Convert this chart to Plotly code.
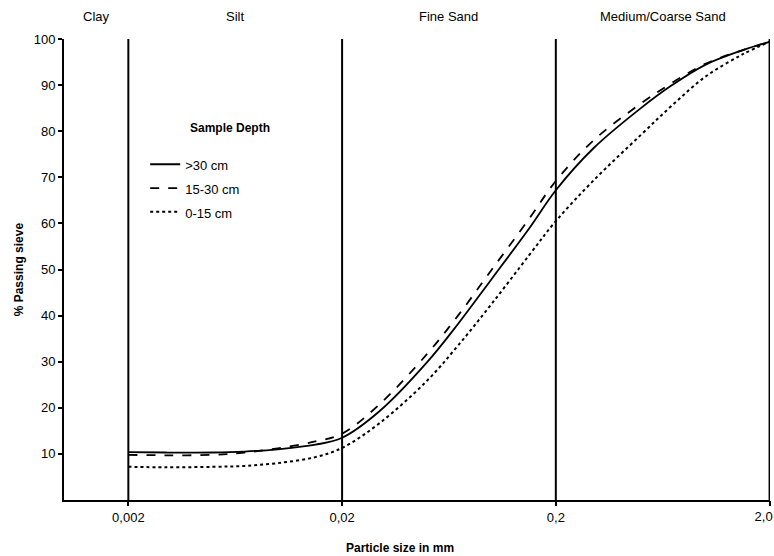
import plotly.graph_objects as go
import numpy as np

# Particle size (mm)
sizes = [0.002, 0.003, 0.005, 0.007, 0.01, 0.015, 0.02, 0.03, 0.05, 0.07,
         0.1, 0.15, 0.2, 0.3, 0.5, 0.7, 1.0, 1.5, 2.0]

# % passing sieve per sample depth
deep_gt30 = [10.4, 10.3, 10.3, 10.5, 11.0, 12.0, 13.5, 19.3, 29.9, 38.3,
             47.9, 58.9, 67.2, 76.3, 85.0, 90.0, 94.4, 97.6, 99.4]
mid_15_30 = [9.8, 9.7, 9.8, 10.3, 11.2, 12.7, 14.4, 20.8, 31.7, 40.1,
             49.9, 61.0, 69.2, 78.0, 86.0, 90.5, 94.6, 97.6, 99.4]
top_0_15 = [7.2, 7.1, 7.2, 7.4, 8.0, 9.3, 11.3, 16.7, 25.9, 33.6,
            42.5, 53.1, 60.5, 69.3, 79.2, 85.6, 91.8, 96.7, 99.4]

series_names = [">30 cm", "15-30 cm", "0-15 cm"]
series_dash = ["solid", "dash", "dot"]
legend_title = "Sample Depth"

boundaries = [0.002, 0.02, 0.2, 2.0]
boundary_labels = ["0,002", "0,02", "0,2", "2,0"]

class_names = ["Clay", "Silt", "Fine Sand", "Medium/Coarse Sand"]
class_centers = [0.001414, 0.00632, 0.0632, 0.632]

y_ticks = [10, 20, 30, 40, 50, 60, 70, 80, 90, 100]

FONT = "Liberation Sans, Arial, sans-serif"
x_range = [-3, np.log10(2.0) + 0.002]

fig = go.Figure()
for vals, name, dash in zip([deep_gt30, mid_15_30, top_0_15], series_names, series_dash):
    fig.add_trace(go.Scatter(
        x=sizes, y=vals, mode="lines",
        name="<span style='font-size:13px'>" + name.replace(">", "&gt;") + "</span>",
        line=dict(color="black", width=1.8 if dash != "dot" else 2, dash=dash,
                  shape="spline", smoothing=1.0),
    ))

for b in boundaries:
    fig.add_shape(type="line", xref="x", yref="y", x0=b, x1=b, y0=0, y1=100,
                  line=dict(color="black", width=2))

for name, c in zip(class_names, class_centers):
    fig.add_annotation(x=np.log10(c), xref="x", y=1.048, yref="paper", text=name,
                       xanchor="center", yanchor="middle",
                       showarrow=False, font=dict(family=FONT, size=13, color="black"))

# legend heading
fig.add_annotation(x=0.235, xref="paper", y=0.807, yref="paper", xanchor="center", yanchor="middle",
                   text="<b>" + legend_title + "</b>", showarrow=False,
                   font=dict(family=FONT, size=12, color="black"))

# axis titles
fig.add_annotation(x=-0.064, xref="paper", y=0.5, yref="paper", xanchor="center", yanchor="middle",
                   text="<b>% Passing sieve</b>", textangle=-90, showarrow=False,
                   font=dict(family=FONT, size=12, color="black"))
fig.add_annotation(x=0.476, xref="paper", y=-0.104, yref="paper", xanchor="center", yanchor="middle",
                   text="<b>Particle size in mm</b>", showarrow=False,
                   font=dict(family=FONT, size=12, color="black"))

fig.update_xaxes(
    type="log", range=x_range, automargin=False,
    tickvals=boundaries, ticktext=boundary_labels[:-1] + [""],
    ticks="outside", ticklen=4, tickwidth=1.5, tickcolor="black",
    showline=True, linewidth=2, linecolor="black", showgrid=False, zeroline=False,
    tickfont=dict(family=FONT, size=13, color="black"),
)
fig.update_yaxes(
    range=[0, 100], tickvals=y_ticks, automargin=False,
    ticks="outside", ticklen=4, tickwidth=1.5, tickcolor="black",
    showline=True, linewidth=2, linecolor="black", showgrid=False, zeroline=False,
    tickfont=dict(family=FONT, size=13, color="black"),
)

# second (overlay) x axis only to carry the last label, nudged left to stay inside the page
fig.update_layout(xaxis2=dict(
    type="log", range=x_range, overlaying="x", side="bottom", anchor="y", automargin=False,
    tickvals=[boundaries[-1]], ticktext=[boundary_labels[-1]], ticklabelshift=-6,
    ticks="outside", ticklen=4, tickwidth=1.5, tickcolor="black",
    showline=False, showgrid=False, zeroline=False, fixedrange=True,
    tickfont=dict(family=FONT, size=13, color="black"),
))
fig.add_trace(go.Scatter(x=[boundaries[-1]], y=[None], xaxis="x2", yaxis="y",
                         mode="lines", showlegend=False, hoverinfo="skip"))

fig.update_layout(
    width=774, height=556,
    margin=dict(l=64, r=4, t=39, b=56, autoexpand=False),
    paper_bgcolor="white", plot_bgcolor="white",
    font=dict(family=FONT, size=13, color="black"),
    legend=dict(
        x=0.115, y=0.765, xanchor="left", yanchor="top",
        bgcolor="rgba(0,0,0,0)", tracegroupgap=0,
        font=dict(family=FONT, size=16, color="black"),
    ),
    showlegend=True,
)

fig.write_html("out.html", config={"displayModeBar": False},
               post_script="document.body.style.margin='0px';document.body.style.overflow='hidden';")
